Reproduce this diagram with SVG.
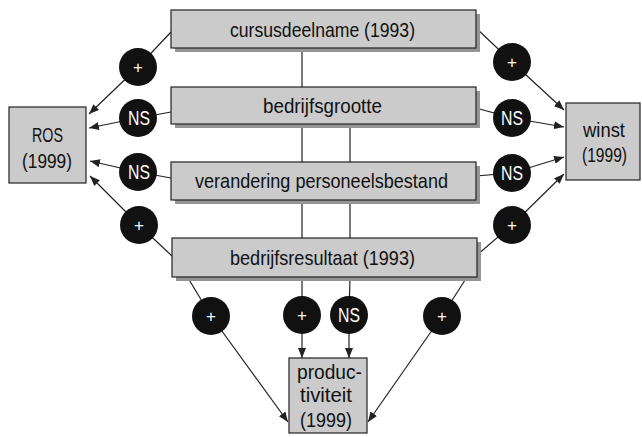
<svg xmlns="http://www.w3.org/2000/svg" width="642" height="437" viewBox="0 0 642 437">
<defs>
<style>
.bx{fill:#cbcbcb;stroke:#222;stroke-width:1.2}
.sh{fill:#959595}
.t{font-family:"Liberation Sans",Arial,sans-serif;font-size:21px;fill:#111;text-anchor:middle}
.c{fill:#111}
.ct{font-family:"Liberation Sans",Arial,sans-serif;font-size:20px;fill:#fff;text-anchor:middle}
.cp{font-family:"Liberation Sans",Arial,sans-serif;font-size:17px;fill:#fff;text-anchor:middle}
.ln{fill:none;stroke:#222;stroke-width:1.2}
.ar{fill:none;stroke:#222;stroke-width:1.2;marker-end:url(#ah)}
</style>
<marker id="ah" markerUnits="userSpaceOnUse" markerWidth="10" markerHeight="8" refX="10" refY="4" orient="auto">
<path d="M0,0 L10,4 L0,8 z" fill="#222"/>
</marker>
</defs>
<g id="connectors">
<line class="ln" x1="302" y1="48" x2="302" y2="238"/>
<line class="ln" x1="350" y1="124" x2="350" y2="238"/>
<polyline class="ar" points="171,32 138,67 89,114"/>
<polyline class="ar" points="171,112 138,118 89,128"/>
<polyline class="ar" points="171,178 138,172 90,161"/>
<polyline class="ar" points="172,256 139,225 90,176"/>
<polyline class="ar" points="476,28 512,62 564,110"/>
<polyline class="ar" points="476,108 512,118 564,127"/>
<polyline class="ar" points="476,176 512,173 564,157"/>
<polyline class="ar" points="477,255 512,225 564,174"/>
<polyline class="ar" points="188,278 211,316 288,422"/>
<polyline class="ar" points="302,277 302,315 302,358"/>
<polyline class="ar" points="350,277 349,315 349,358"/>
<polyline class="ar" points="467,277 442,316 368,422"/>
</g>
<g id="n-cursus">
<rect class="sh" x="175" y="14" width="305" height="38"/>
<rect class="bx" x="171" y="10" width="305" height="38"/>
<text class="t" x="322.5" y="37" textLength="185" lengthAdjust="spacingAndGlyphs">cursusdeelname (1993)</text>
</g>
<g id="n-grootte">
<rect class="sh" x="175" y="91" width="305" height="37"/>
<rect class="bx" x="171" y="87" width="305" height="37"/>
<text class="t" x="322.5" y="113" textLength="119" lengthAdjust="spacingAndGlyphs">bedrijfsgrootte</text>
</g>
<g id="n-personeel">
<rect class="sh" x="175" y="166" width="305" height="38"/>
<rect class="bx" x="171" y="162" width="305" height="38"/>
<text class="t" x="321.5" y="188" textLength="253" lengthAdjust="spacingAndGlyphs">verandering personeelsbestand</text>
</g>
<g id="n-resultaat">
<rect class="sh" x="176" y="242" width="305" height="39"/>
<rect class="bx" x="172" y="238" width="305" height="39"/>
<text class="t" x="322.5" y="265" textLength="185" lengthAdjust="spacingAndGlyphs">bedrijfsresultaat (1993)</text>
</g>
<g id="n-ros">
<rect class="bx" x="9" y="107" width="77" height="76"/>
<text class="t" x="47.5" y="142" textLength="31" lengthAdjust="spacingAndGlyphs">ROS</text>
<text class="t" x="47" y="168" textLength="50" lengthAdjust="spacingAndGlyphs">(1999)</text>
</g>
<g id="n-winst">
<rect class="bx" x="566" y="103" width="74" height="77"/>
<text class="t" x="604" y="137" textLength="42" lengthAdjust="spacingAndGlyphs">winst</text>
<text class="t" x="604.5" y="162" textLength="45" lengthAdjust="spacingAndGlyphs">(1999)</text>
</g>
<g id="n-productiviteit">
<rect class="bx" x="289" y="358" width="78" height="75"/>
<text class="t" x="329.5" y="379" textLength="65" lengthAdjust="spacingAndGlyphs">produc-</text>
<text class="t" x="326" y="402" textLength="52" lengthAdjust="spacingAndGlyphs">tiviteit</text>
<text class="t" x="326" y="427" textLength="52" lengthAdjust="spacingAndGlyphs">(1999)</text>
</g>
<g id="labels">
<g id="l1"><circle class="c" cx="138" cy="67" r="19"/><text class="cp" x="138" y="73">+</text></g>
<g id="l2"><circle class="c" cx="138" cy="118" r="19"/><text class="ct" x="139" y="125" textLength="22" lengthAdjust="spacingAndGlyphs">NS</text></g>
<g id="l3"><circle class="c" cx="138" cy="172" r="19"/><text class="ct" x="139" y="179" textLength="22" lengthAdjust="spacingAndGlyphs">NS</text></g>
<g id="l4"><circle class="c" cx="139" cy="225" r="19"/><text class="cp" x="139" y="231">+</text></g>
<g id="l5"><circle class="c" cx="512" cy="62" r="19"/><text class="cp" x="512" y="68">+</text></g>
<g id="l6"><circle class="c" cx="512" cy="118" r="19"/><text class="ct" x="512" y="125" textLength="22" lengthAdjust="spacingAndGlyphs">NS</text></g>
<g id="l7"><circle class="c" cx="512" cy="173" r="19"/><text class="ct" x="512" y="180" textLength="22" lengthAdjust="spacingAndGlyphs">NS</text></g>
<g id="l8"><circle class="c" cx="512" cy="225" r="19"/><text class="cp" x="512" y="231">+</text></g>
<g id="l9"><circle class="c" cx="211" cy="316" r="19"/><text class="cp" x="211" y="322">+</text></g>
<g id="l10"><circle class="c" cx="302" cy="315" r="19"/><text class="cp" x="302" y="321">+</text></g>
<g id="l11"><circle class="c" cx="349" cy="315" r="19"/><text class="ct" x="349" y="322" textLength="22" lengthAdjust="spacingAndGlyphs">NS</text></g>
<g id="l12"><circle class="c" cx="442" cy="316" r="19"/><text class="cp" x="442" y="322">+</text></g>
</g>
</svg>
